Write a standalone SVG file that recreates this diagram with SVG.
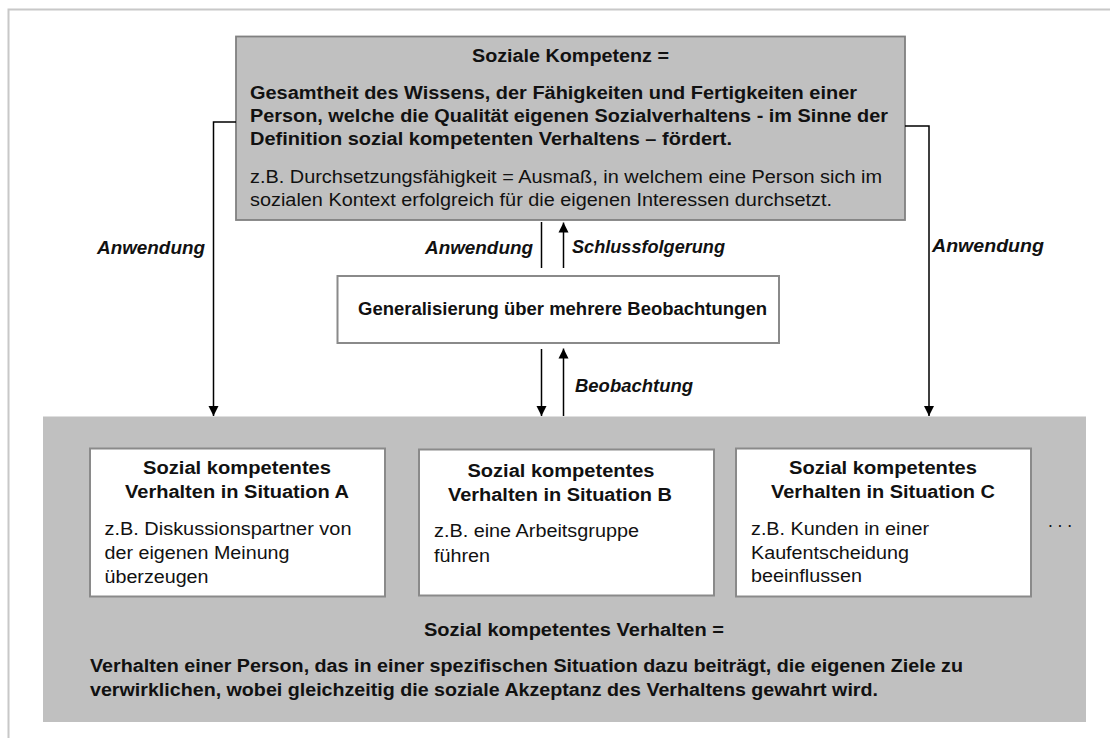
<svg xmlns="http://www.w3.org/2000/svg" width="1110" height="738" viewBox="0 0 1110 738">
  <defs>
    <marker id="arrow" viewBox="0 0 10 10" refX="10" refY="5" markerWidth="10" markerHeight="11" markerUnits="userSpaceOnUse" orient="auto">
      <path d="M0,0 L10,5 L0,10 Z" fill="#000"/>
    </marker>
    <style>
      text { font-family: "Liberation Sans", Arial, sans-serif; font-size: 17.5px; fill: #111; }
      .b { font-weight: bold; }
      .lbl { font-weight: bold; font-style: italic; font-size: 18px; }
      .c { text-anchor: middle; }
      .frame { fill: none; stroke: #c8c8c8; stroke-width: 2; }
      .grey { fill: #c0c0c0; }
      .box { fill: #fff; stroke: #8a8a8a; stroke-width: 2; }
      .conn { fill: none; stroke: #000; stroke-width: 1.5; }
    </style>
  </defs>

  <rect width="1110" height="738" fill="#fff"/>
  <path class="frame" d="M8.5,738 V9.5 H1110"/>

  <!-- Social competence definition -->
  <g id="kompetenz">
    <rect class="grey" x="236" y="36.5" width="669" height="183.5" stroke="#808080" stroke-width="1.8"/>
    <text class="b c" x="570.5" y="62" textLength="197" lengthAdjust="spacingAndGlyphs">Soziale Kompetenz =</text>
    <text class="b" x="250" y="99" textLength="607" lengthAdjust="spacingAndGlyphs">Gesamtheit des Wissens, der Fähigkeiten und Fertigkeiten einer</text>
    <text class="b" x="250" y="122" textLength="638" lengthAdjust="spacingAndGlyphs">Person, welche die Qualität eigenen Sozialverhaltens - im Sinne der</text>
    <text class="b" x="250" y="145" textLength="482" lengthAdjust="spacingAndGlyphs">Definition sozial kompetenten Verhaltens – fördert.</text>
    <text x="250" y="183" textLength="632" lengthAdjust="spacingAndGlyphs">z.B. Durchsetzungsfähigkeit = Ausmaß, in welchem eine Person sich im</text>
    <text x="250" y="206" textLength="582" lengthAdjust="spacingAndGlyphs">sozialen Kontext erfolgreich für die eigenen Interessen durchsetzt.</text>
  </g>

  <!-- Generalisation step -->
  <g id="generalisierung">
    <rect class="box" x="337.5" y="276" width="441.5" height="67" stroke-width="1.5"/>
    <text class="b" x="358" y="315" textLength="409" lengthAdjust="spacingAndGlyphs">Generalisierung über mehrere Beobachtungen</text>
  </g>

  <!-- Socially competent behaviour -->
  <g id="verhalten">
    <rect class="grey" x="43" y="416.5" width="1043" height="305.5"/>
    <text class="b c" x="574" y="636" textLength="300" lengthAdjust="spacingAndGlyphs">Sozial kompetentes Verhalten =</text>
    <text class="b" x="90" y="672" textLength="873" lengthAdjust="spacingAndGlyphs">Verhalten einer Person, das in einer spezifischen Situation dazu beiträgt, die eigenen Ziele zu</text>
    <text class="b" x="90" y="696" textLength="788" lengthAdjust="spacingAndGlyphs">verwirklichen, wobei gleichzeitig die soziale Akzeptanz des Verhaltens gewahrt wird.</text>
    <text x="1048" y="527" textLength="24" lengthAdjust="spacing">...</text>
  </g>

  <g id="situation-a">
    <rect class="box" x="90" y="448.5" width="295" height="148"/>
    <text class="b c" x="237" y="474" textLength="188" lengthAdjust="spacingAndGlyphs">Sozial kompetentes</text>
    <text class="b c" x="237" y="498" textLength="224" lengthAdjust="spacingAndGlyphs">Verhalten in Situation A</text>
    <text x="104.5" y="535" textLength="247" lengthAdjust="spacingAndGlyphs">z.B. Diskussionspartner von</text>
    <text x="104.5" y="559" textLength="185" lengthAdjust="spacingAndGlyphs">der eigenen Meinung</text>
    <text x="104.5" y="583" textLength="104" lengthAdjust="spacingAndGlyphs">überzeugen</text>
  </g>

  <g id="situation-b">
    <rect class="box" x="419" y="449.5" width="295" height="146"/>
    <text class="b c" x="561" y="477" textLength="187" lengthAdjust="spacingAndGlyphs">Sozial kompetentes</text>
    <text class="b c" x="560" y="501" textLength="224" lengthAdjust="spacingAndGlyphs">Verhalten in Situation B</text>
    <text x="434" y="537" textLength="205" lengthAdjust="spacingAndGlyphs">z.B. eine Arbeitsgruppe</text>
    <text x="434" y="561.5" textLength="56" lengthAdjust="spacingAndGlyphs">führen</text>
  </g>

  <g id="situation-c">
    <rect class="box" x="736" y="448.5" width="295" height="148"/>
    <text class="b c" x="883" y="473.5" textLength="188" lengthAdjust="spacingAndGlyphs">Sozial kompetentes</text>
    <text class="b c" x="883" y="497.5" textLength="224" lengthAdjust="spacingAndGlyphs">Verhalten in Situation C</text>
    <text x="751" y="534.5" textLength="178" lengthAdjust="spacingAndGlyphs">z.B. Kunden in einer</text>
    <text x="751" y="558.5" textLength="158" lengthAdjust="spacingAndGlyphs">Kaufentscheidung</text>
    <text x="751" y="582" textLength="111" lengthAdjust="spacingAndGlyphs">beeinflussen</text>
  </g>

  <!-- Connectors -->
  <g id="connectors">
    <path class="conn" d="M236,122 H213.5 V416" marker-end="url(#arrow)"/>
    <path class="conn" d="M905,126 H929 V416" marker-end="url(#arrow)"/>
    <path class="conn" d="M541.5,222 V268"/>
    <path class="conn" d="M563.5,268 V222.5" marker-end="url(#arrow)"/>
    <path class="conn" d="M541.5,349 V416" marker-end="url(#arrow)"/>
    <path class="conn" d="M563.5,416 V348.5" marker-end="url(#arrow)"/>

    <text class="lbl" x="97" y="254" textLength="108" lengthAdjust="spacingAndGlyphs">Anwendung</text>
    <text class="lbl" x="425" y="254" textLength="108" lengthAdjust="spacingAndGlyphs">Anwendung</text>
    <text class="lbl" x="572" y="253" textLength="153" lengthAdjust="spacingAndGlyphs">Schlussfolgerung</text>
    <text class="lbl" x="932" y="252" textLength="112" lengthAdjust="spacingAndGlyphs">Anwendung</text>
    <text class="lbl" x="575" y="392" textLength="118" lengthAdjust="spacingAndGlyphs">Beobachtung</text>
  </g>
</svg>
